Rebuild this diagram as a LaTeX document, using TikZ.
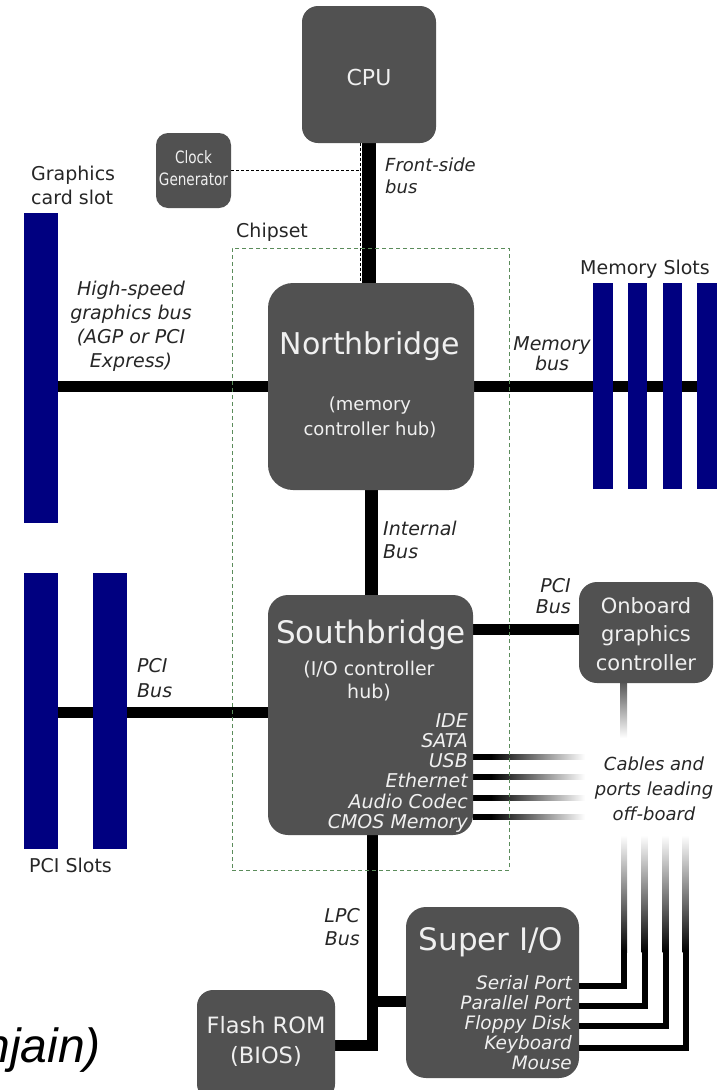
\documentclass[tikz,border=0pt]{standalone}
\usepackage{fontspec}
\setmainfont{DejaVu Sans}
\newfontfamily\slidefont{Liberation Sans}
\newfontfamily\narrowfont[FakeStretch=0.8]{DejaVu Sans}
\usetikzlibrary{backgrounds,calc}
\definecolor{boxgray}{HTML}{515151}
\definecolor{slotblue}{HTML}{000080}
\definecolor{chipgreen}{HTML}{5B8C5B}
\definecolor{labelink}{HTML}{262626}
\newcommand\mlines[2][c]{\begin{tabular}[t]{@{}#1@{}}#2\end{tabular}}
\pgfdeclarehorizontalshading{portfade}{100bp}{color(0bp)=(black); color(33bp)=(black); color(75bp)=(white); color(100bp)=(white)}
\begin{document}
\begin{tikzpicture}[x=1pt,y=-1pt,
  chip/.style={fill=boxgray, rounded corners=#1, inner sep=0pt},
  slot/.style={fill=slotblue, inner sep=0pt},
  bus/.style={draw=black, line width=11pt},
  clockline/.style={draw=black, line width=1pt, dash pattern=on 3pt off 2pt},
  portline/.style={draw=black, line width=6pt},
  chipsetbox/.style={draw=chipgreen, line width=1pt, dash pattern=on 4pt off 3pt},
  boxtext/.style={text=white!94!black, inner sep=0pt, anchor=base},
  lab/.style={text=labelink, inner sep=0pt, anchor=base, font=\fontsize{19}{24}\selectfont},
  ilab/.style={text=labelink, inner sep=0pt, anchor=base, font=\fontsize{19}{24}\selectfont\itshape},
]
\useasboundingbox (0,0) rectangle (724,1090);

% chips
\node[chip=16, minimum width=134pt, minimum height=137pt] (cpu) at (369,74.5) {};
\node[chip=12, minimum width=75pt, minimum height=75pt] (clock) at (193.5,170.5) {};
\node[chip=25, minimum width=206pt, minimum height=207pt] (nb) at (371,386.5) {};
\node[chip=20, minimum width=205pt, minimum height=240pt] (sb) at (370.5,715) {};
\node[chip=18, minimum width=134pt, minimum height=101pt] (obg) at (646,632.5) {};
\node[chip=20, minimum width=173pt, minimum height=171pt] (sio) at (492.5,992.5) {};
\node[chip=16, minimum width=138pt, minimum height=110pt] (flash) at (266,1045) {};

% slots
\node[slot, minimum width=34pt, minimum height=310pt] (gslot) at (41,368) {};
\node[slot, minimum width=20pt, minimum height=206pt] (mem1) at (603,386) {};
\node[slot, minimum width=19pt, minimum height=206pt] (mem2) at (637.5,386) {};
\node[slot, minimum width=19pt, minimum height=206pt] (mem3) at (672.5,386) {};
\node[slot, minimum width=20pt, minimum height=206pt] (mem4) at (707,386) {};
\node[slot, minimum width=34pt, minimum height=276pt] (pci1) at (41,711) {};
\node[slot, minimum width=34pt, minimum height=276pt] (pci2) at (110,711) {};

% buses (behind)
\begin{pgfonlayer}{background}
\draw[bus, line width=14pt] (cpu.south) -- (cpu.south |- nb.north);
\draw[bus] (gslot.center |- nb.west) -- (nb.west);
\draw[bus] (nb.east) -- (mem4.center |- nb.east);
\draw[bus, line width=13pt] (nb.south) -- (nb.south |- sb.north);
\coordinate (pcil) at ($(sb.west)+(0,-3)$);
\draw[bus] (pci1.center |- pcil) -- (pcil);
\coordinate (pcir) at ($(obg.west)+(0,-3.5)$);
\draw[bus] (sb.east |- pcir) -- (pcir);
\coordinate (lpctop) at ($(sb.south)+(2,0)$);
\coordinate (lpcsio) at ($(sio.west)+(0,8.5)$);
\draw[bus, line join=miter] (lpctop) -- (lpctop |- flash.east) -- (flash.east);
\draw[bus] (lpctop |- lpcsio) -- (lpcsio);
% ports leaving the southbridge
\foreach \yy in {757,777,797.5,817}{
  \shade[shading=portfade] (473,\yy-2.5) rectangle (585,\yy+2.5);
}
% onboard graphics cable
\shade[top color=black!65, bottom color=white] (620,683) rectangle (627,738);
% super I/O cables
\foreach \xx in {624,644.5,665.5,685.5}{
  \shade[top color=white, bottom color=black] (\xx-3,835) rectangle (\xx+3,952);
}
\end{pgfonlayer}

\draw[portline] ($(sio.east)+(0,-7)$) -| (624,950);
\draw[portline] ($(sio.east)+(0,13.5)$) -| (644.5,950);
\draw[portline] ($(sio.east)+(0,33.5)$) -| (665.5,950);
\draw[portline] ($(sio.east)+(0,55.5)$) -| (685.5,950);

% clock generator lines
\coordinate (fsbl) at (360,0);
\draw[clockline] (clock.east) -- (clock.east -| fsbl);
\draw[clockline] (cpu.south -| fsbl) -- (nb.north -| fsbl);

% chipset outline
\node[chipsetbox, minimum width=277pt, minimum height=622pt, inner sep=0pt] (chipset) at (370.5,559) {};

% texts in chips
\node[boxtext, font=\fontsize{22}{29}\selectfont] (cputxt) at (369,85) {CPU};
\node[boxtext, font=\narrowfont\fontsize{17}{22}\selectfont] (clocktxt) at (193.5,163) {\mlines{Clock\\Generator}};
\node[boxtext, font=\fontsize{30}{30}\selectfont] (nbtitle) at (370,354) {Northbridge};
\node[boxtext, font=\fontsize{18}{25}\selectfont] (nbsub) at (370,410) {\mlines{(memory\\controller hub)}};
\node[boxtext, font=\fontsize{31}{31}\selectfont] (sbtitle) at (371,643) {Southbridge};
\node[boxtext, font=\fontsize{19}{23}\selectfont] (sbsub) at (369,675) {\mlines{(I/O controller\\hub)}};
\node[boxtext, anchor=base east, font=\fontsize{19}{20}\selectfont\itshape] (sbports) at (468,727) {\mlines[r]{IDE\\SATA\\USB\\Ethernet\\Audio Codec\\CMOS Memory}};
\node[boxtext, font=\fontsize{21}{28.5}\selectfont] (obgtxt) at (646,613) {\mlines{Onboard\\graphics\\controller}};
\node[boxtext, font=\fontsize{31}{31}\selectfont] (siotitle) at (491,950) {Super I/O};
\node[boxtext, anchor=base east, font=\fontsize{18.5}{20}\selectfont\itshape] (sioports) at (572,989) {\mlines[r]{Serial Port\\Parallel Port\hspace{6pt}\\Floppy Disk\\Keyboard\\Mouse}};
\node[boxtext, font=\fontsize{22.5}{30}\selectfont] (flashtxt) at (266,1033) {\mlines{Flash ROM\\(BIOS)}};

% labels
\node[lab, anchor=base west] (gslotlbl) at (31,180) {\mlines[l]{Graphics\\card slot}};
\node[lab, anchor=base west] (chipsetlbl) at (236,237) {Chipset};
\node[lab, anchor=base west] (memlbl) at (580,274) {Memory Slots};
\node[lab, anchor=base west] (pcilbl) at (29,872) {PCI Slots};
\node[ilab, anchor=base west, font=\fontsize{18}{22}\selectfont\itshape] (fsblbl) at (385,171) {\mlines[l]{Front-side\\bus}};
\node[ilab] (agplbl) at (131,295) {\mlines{High-speed\\graphics bus\\(AGP or PCI\\Express)}};
\node[ilab, font=\fontsize{19}{19}\selectfont\itshape] (membuslbl) at (552,350) {\mlines{Memory\\bus}};
\node[ilab, anchor=base west, font=\fontsize{19}{23}\selectfont\itshape] (intlbl) at (383,535) {\mlines[l]{Internal\\Bus}};
\node[ilab, anchor=base west, font=\fontsize{19}{25}\selectfont\itshape] (pcilbll) at (137,672) {\mlines[l]{PCI\\Bus}};
\node[ilab, anchor=base east, font=\fontsize{19}{21}\selectfont\itshape] (pcilblr) at (571,592) {\mlines[r]{PCI\\Bus}};
\node[ilab, anchor=base east, font=\fontsize{19}{23}\selectfont\itshape] (lpclbl) at (360,922) {\mlines[r]{LPC\\Bus}};
\node[ilab, font=\fontsize{18}{25}\selectfont\itshape] (cablelbl) at (654,770) {\mlines{Cables and\\ports leading\\off-board}};

% slide caption fragment
\node[inner sep=0pt, anchor=base east, text=black, font=\slidefont\itshape\fontsize{48}{50}\selectfont] (credit) at (101,1062) {njain)};
\end{tikzpicture}
\end{document}
